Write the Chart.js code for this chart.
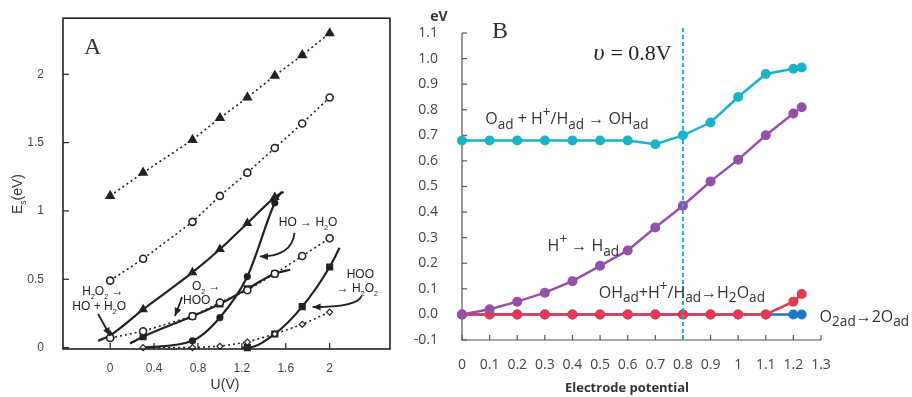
<!DOCTYPE html>
<html>
<head>
<meta charset="utf-8">
<script src="https://cdn.jsdelivr.net/npm/chart.js@4.4.0/dist/chart.umd.min.js"></script>
<style>
  body { margin: 0; background: #fff; width: 912px; height: 397px; overflow: hidden; position: relative; }
  #chartA { position: absolute; left: 0; top: 0; }
  #chartB { position: absolute; left: 400px; top: 0; }
</style>
</head>
<body>
<canvas id="chartA" width="420" height="397"></canvas>
<canvas id="chartB" width="512" height="397"></canvas>
<script>
// ---- painel A : barreiras E_s vs U ----
const uA = [0, 0.3, 0.75, 1.0, 1.25, 1.5, 1.75, 2.0];
const triDotted = [1.11, 1.28, 1.52, 1.68, 1.83, 1.99, 2.14, 2.30];
const circUpper = [0.49, 0.65, 0.92, 1.11, 1.28, 1.46, 1.64, 1.83];
const circLower = [0.07, 0.12, 0.23, 0.33, 0.42, 0.54, 0.67, 0.80];
const diaLower  = [null, 0, 0, 0.01, 0.04, 0.10, 0.17, 0.26];

const h2o2U = [-0.11, 0, 0.3, 0.75, 1.0, 1.25, 1.5, 1.58];
const h2o2E = [0.05, 0.09, 0.28, 0.55, 0.72, 0.91, 1.10, 1.14];
const o2U = [0.18, 0.3, 0.75, 1.0, 1.25, 1.5, 1.64];
const o2E = [0.03, 0.08, 0.23, 0.32, 0.43, 0.54, 0.57];
const hoU = [0.3, 0.75, 1.0, 1.25, 1.5, 1.56];
const hoE = [0, 0.05, 0.22, 0.52, 1.06, 1.14];
const hooU = [1.2, 1.25, 1.5, 1.75, 2.0, 2.09];
const hooE = [0, 0, 0.10, 0.30, 0.59, 0.73];

const ticksUA = [0, 0.4, 0.8, 1.2, 1.6, 2];
const ticksEA = [0, 0.5, 1, 1.5, 2];

// ---- painel B : energia vs potencial ----
const potential = [0, 0.1, 0.2, 0.3, 0.4, 0.5, 0.6, 0.7, 0.8, 0.9, 1.0, 1.1, 1.2, 1.23];
const ohFormation    = [0.68, 0.68, 0.68, 0.68, 0.68, 0.68, 0.68, 0.665, 0.70, 0.75, 0.85, 0.94, 0.96, 0.965];
const hAdsorption    = [0.0, 0.02, 0.05, 0.085, 0.13, 0.19, 0.25, 0.34, 0.425, 0.52, 0.605, 0.70, 0.785, 0.81];
const waterFormation = [0, 0, 0, 0, 0, 0, 0, 0, 0, 0, 0, 0, 0.05, 0.08];
const o2Dissociation = [0, 0, 0, 0, 0, 0, 0, 0, 0, 0, 0, 0, 0, 0];
const ticksB_x = [0, 0.1, 0.2, 0.3, 0.4, 0.5, 0.6, 0.7, 0.8, 0.9, 1, 1.1, 1.2, 1.3];
const markerV = 0.8;

function pts(xs, ys) {
  return xs.map((x, i) => ({ x: x, y: ys[i] })).filter(p => p.y !== null);
}
// raio zero nas pontas das linhas sólidas
function endsHidden(n, r) {
  return Array.from({ length: n }, (_, i) => (i === 0 || i === n - 1) ? 0 : r);
}

// texto com subscrito / sobrescrito
function richText(ctx, parts, x, y, size, family, color, subScale) {
  let cx = x;
  ctx.save();
  ctx.fillStyle = color;
  ctx.textAlign = 'left';
  ctx.textBaseline = 'alphabetic';
  for (const [txt, kind] of parts) {
    const s = kind === 'n' ? size : size * subScale;
    const dy = kind === 'sub' ? size * 0.3 : (kind === 'sup' ? -size * 0.42 : 0);
    ctx.font = s + 'px ' + family;
    ctx.fillText(txt, cx, y + dy);
    cx += ctx.measureText(txt).width;
  }
  ctx.restore();
}

function arrowHead(ctx, fx, fy, tx, ty) {
  const a = Math.atan2(ty - fy, tx - fx);
  const L = 8, W = 3.5;
  ctx.beginPath();
  ctx.moveTo(tx, ty);
  ctx.lineTo(tx - L * Math.cos(a) + W * Math.sin(a), ty - L * Math.sin(a) - W * Math.cos(a));
  ctx.lineTo(tx - L * Math.cos(a) - W * Math.sin(a), ty - L * Math.sin(a) + W * Math.cos(a));
  ctx.closePath();
  ctx.fill();
}

const ink = '#222';
const dottedStyle = { showLine: true, borderColor: ink, borderWidth: 1.6, borderDash: [2, 3], pointBorderColor: ink, clip: false };
const solidStyle = { showLine: true, borderColor: ink, borderWidth: 2.2, pointBorderColor: ink, pointBackgroundColor: ink, clip: false, cubicInterpolationMode: 'monotone' };

const notesA = [
  { parts: [['HO → H', 'n'], ['2', 'sub'], ['O', 'n']], u: 1.536, e: 0.89 },
  { parts: [['H', 'n'], ['2', 'sub'], ['O', 'n'], ['2', 'sub'], [' →', 'n']], u: -0.255, e: 0.384 },
  { parts: [['HO + H', 'n'], ['2', 'sub'], ['O', 'n']], u: -0.345, e: 0.275 },
  { parts: [['O', 'n'], ['2', 'sub'], [' →', 'n']], u: 0.745, e: 0.42 },
  { parts: [['HOO', 'n']], u: 0.664, e: 0.319 },
  { parts: [['HOO', 'n']], u: 2.155, e: 0.507 },
  { parts: [['→ H', 'n'], ['2', 'sub'], ['O', 'n'], ['2', 'sub']], u: 2.064, e: 0.406 }
];
// setas: início, controle, fim (em unidades dos eixos)
const arrowsA = [
  [[1.68, 0.84], [1.655, 0.667], [1.364, 0.667]],
  [[-0.11, 0.246], [-0.055, 0.166], [0.0, 0.087]],
  [[0.655, 0.37], [0.625, 0.3], [0.59, 0.232]],
  [[2.29, 0.377], [2.255, 0.297], [1.845, 0.297]]
];

const panelAPlugin = {
  id: 'panelA',
  afterDraw(chart) {
    const ctx = chart.ctx;
    const { left, right, top, bottom } = chart.chartArea;
    const xs = chart.scales.x, ys = chart.scales.y;
    ctx.save();
    ctx.strokeStyle = ink;
    ctx.lineWidth = 1.6;
    ctx.strokeRect(left, top, right - left, bottom - top);
    ctx.lineWidth = 1.2;
    ticksUA.forEach(v => {
      const px = xs.getPixelForValue(v);
      ctx.beginPath(); ctx.moveTo(px, bottom); ctx.lineTo(px, bottom - 6); ctx.stroke();
    });
    ticksEA.forEach(v => {
      const py = ys.getPixelForValue(v);
      ctx.beginPath(); ctx.moveTo(left, py); ctx.lineTo(left + 6, py); ctx.stroke();
    });
    // títulos dos eixos
    ctx.fillStyle = '#333';
    ctx.font = '14px "Liberation Sans"';
    ctx.textAlign = 'center';
    ctx.textBaseline = 'middle';
    ctx.fillText('U(V)', 225, 385);
    ctx.save();
    ctx.translate(22, 214);
    ctx.rotate(-Math.PI / 2);
    richText(ctx, [['E', 'n'], ['s', 'sub'], ['(eV)', 'n']], 0, 0, 14, '"Liberation Sans"', '#333', 0.6);
    ctx.restore();
    // letra do painel
    ctx.font = '24px "Liberation Serif"';
    ctx.textAlign = 'left';
    ctx.textBaseline = 'alphabetic';
    ctx.fillStyle = '#333';
    ctx.fillText('A', 84, 54);
    // anotações
    notesA.forEach(n => {
      richText(ctx, n.parts, xs.getPixelForValue(n.u), ys.getPixelForValue(n.e), 12, '"Liberation Sans"', ink, 0.6);
    });
    ctx.fillStyle = ink;
    ctx.lineWidth = 1.8;
    arrowsA.forEach(a => {
      const p = a.map(q => [xs.getPixelForValue(q[0]), ys.getPixelForValue(q[1])]);
      ctx.beginPath();
      ctx.moveTo(p[0][0], p[0][1]);
      ctx.quadraticCurveTo(p[1][0], p[1][1], p[2][0], p[2][1]);
      ctx.stroke();
      arrowHead(ctx, p[1][0], p[1][1], p[2][0], p[2][1]);
    });
    ctx.restore();
  }
};

new Chart(document.getElementById('chartA'), {
  type: 'scatter',
  data: {
    datasets: [
      Object.assign({ data: pts(uA, triDotted), pointStyle: 'triangle', pointRadius: 4.5, pointBackgroundColor: ink }, dottedStyle),
      Object.assign({ data: pts(uA, circUpper), pointStyle: 'circle', pointRadius: 3.5, pointBorderWidth: 1.6, pointBackgroundColor: '#fff' }, dottedStyle),
      Object.assign({ data: pts(uA, circLower), pointStyle: 'circle', pointRadius: 3.5, pointBorderWidth: 1.6, pointBackgroundColor: '#fff' }, dottedStyle),
      Object.assign({ data: pts(uA, diaLower), pointStyle: 'rectRot', pointRadius: 3, pointBorderWidth: 1.2, pointBackgroundColor: '#fff' }, dottedStyle),
      Object.assign({ data: pts(h2o2U, h2o2E), pointStyle: 'triangle', pointRadius: endsHidden(h2o2U.length, 3.5) }, solidStyle),
      Object.assign({ data: pts(o2U, o2E), pointStyle: 'rect', pointRadius: endsHidden(o2U.length, 3.5) }, solidStyle),
      Object.assign({ data: pts(hoU, hoE), pointStyle: 'circle', pointRadius: endsHidden(hoU.length, 2.5) }, solidStyle),
      Object.assign({ data: pts(hooU, hooE), pointStyle: 'rect', pointRadius: endsHidden(hooU.length, 3.5) }, solidStyle)
    ]
  },
  options: {
    responsive: false,
    animation: false,
    layout: { padding: { top: 15, right: 30, left: 0, bottom: 0 } },
    plugins: { legend: { display: false }, tooltip: { enabled: false } },
    scales: {
      x: {
        type: 'linear', min: -0.43, max: 2.55,
        afterBuildTicks: s => { s.ticks = ticksUA.map(v => ({ value: v })); },
        afterFit: s => { s.height = 48; },
        grid: { display: false }, border: { display: false },
        ticks: { color: '#444', padding: 4, font: { family: 'Liberation Sans', size: 12 }, maxRotation: 0, callback: v => String(v) }
      },
      y: {
        type: 'linear', min: -0.01, max: 2.41,
        afterBuildTicks: s => { s.ticks = ticksEA.map(v => ({ value: v })); },
        afterFit: s => { s.width = 63; },
        grid: { display: false }, border: { display: false },
        ticks: { color: '#444', padding: 11, font: { family: 'Liberation Sans', size: 12 }, callback: v => String(v) }
      }
    }
  },
  plugins: [panelAPlugin]
});

// ---- painel B ----
const labelFont = '"Open Sans"';
const notesB = [
  { parts: [['O', 'n'], ['ad', 'sub'], [' + H', 'n'], ['+', 'sup'], ['/H', 'n'], ['ad', 'sub'], [' → OH', 'n'], ['ad', 'sub']], v: 0.084, e: 0.745 },
  { parts: [['H', 'n'], ['+', 'sup'], [' → H', 'n'], ['ad', 'sub']], v: 0.31, e: 0.249 },
  { parts: [['OH', 'n'], ['ad', 'sub'], ['+H', 'n'], ['+', 'sup'], ['/H', 'n'], ['ad', 'sub'], ['→H', 'n'], ['2', 'sub'], ['O', 'n'], ['ad', 'sub']], v: 0.495, e: 0.066 },
  { parts: [['O', 'n'], ['2ad', 'sub'], ['→2O', 'n'], ['ad', 'sub']], v: 1.295, e: -0.028 }
];

const panelBPlugin = {
  id: 'panelB',
  beforeDatasetsDraw(chart) {
    const ctx = chart.ctx;
    const { left, right, top, bottom } = chart.chartArea;
    const xs = chart.scales.x, ys = chart.scales.y;
    ctx.save();
    ctx.strokeStyle = '#555';
    ctx.lineWidth = 1.2;
    ctx.beginPath();
    ctx.moveTo(left, top); ctx.lineTo(left, bottom); ctx.lineTo(right, bottom);
    ctx.stroke();
    ticksB_x.forEach(v => {
      const px = xs.getPixelForValue(v);
      ctx.beginPath(); ctx.moveTo(px, bottom); ctx.lineTo(px, bottom - 5); ctx.stroke();
    });
    ys.ticks.forEach(t => {
      const py = ys.getPixelForValue(t.value);
      ctx.beginPath(); ctx.moveTo(left, py); ctx.lineTo(left + 5, py); ctx.stroke();
    });
    ctx.restore();
  },
  afterDraw(chart) {
    const ctx = chart.ctx;
    const { bottom } = chart.chartArea;
    const xs = chart.scales.x, ys = chart.scales.y;
    ctx.save();
    // linha tracejada em 0.8 V
    const px = xs.getPixelForValue(markerV);
    ctx.strokeStyle = '#1ab3c6';
    ctx.lineWidth = 2;
    ctx.setLineDash([4, 3]);
    ctx.beginPath(); ctx.moveTo(px, bottom); ctx.lineTo(px, ys.getPixelForValue(1.12)); ctx.stroke();
    ctx.setLineDash([]);
    // rótulos
    notesB.forEach(n => {
      richText(ctx, n.parts, xs.getPixelForValue(n.v), ys.getPixelForValue(n.e), 16, labelFont, '#333', 0.85);
    });
    ctx.fillStyle = '#222';
    ctx.textAlign = 'left';
    ctx.textBaseline = 'alphabetic';
    ctx.font = 'italic 24px "Liberation Serif"';
    ctx.fillText('υ', xs.getPixelForValue(0.476), ys.getPixelForValue(0.995));
    ctx.font = '22px "Liberation Serif"';
    ctx.fillText('= 0.8V', xs.getPixelForValue(0.476) + 17, ys.getPixelForValue(0.995));
    ctx.font = '24px "Liberation Serif"';
    ctx.fillStyle = '#333';
    ctx.fillText('B', xs.getPixelForValue(0.109), ys.getPixelForValue(1.08));
    // títulos
    ctx.fillStyle = '#333';
    ctx.font = 'bold 14px "Open Sans"';
    ctx.textAlign = 'center';
    ctx.textBaseline = 'middle';
    ctx.fillText('eV', 39, 17);
    ctx.font = 'bold 13px "Open Sans"';
    ctx.fillText('Electrode potential', 227, 388);
    ctx.restore();
  }
};

function seriesB(values, color, order) {
  return {
    data: pts(potential, values),
    showLine: true,
    borderColor: color,
    backgroundColor: color,
    pointBackgroundColor: color,
    pointBorderColor: color,
    borderWidth: 2.5,
    pointRadius: 5,
    pointBorderWidth: 0,
    order: order,
    clip: false
  };
}

new Chart(document.getElementById('chartB'), {
  type: 'scatter',
  data: {
    datasets: [
      seriesB(ohFormation, '#1ab3c8', 1),
      seriesB(hAdsorption, '#9550a8', 2),
      seriesB(waterFormation, '#e8384f', 3),
      seriesB(o2Dissociation, '#1c78c2', 4)
    ]
  },
  options: {
    responsive: false,
    animation: false,
    layout: { padding: { top: 33, right: 91, left: 0, bottom: 0 } },
    plugins: { legend: { display: false }, tooltip: { enabled: false } },
    scales: {
      x: {
        type: 'linear', min: 0, max: 1.3,
        afterBuildTicks: s => { s.ticks = ticksB_x.map(v => ({ value: v })); },
        afterFit: s => { s.height = 57; },
        grid: { display: false }, border: { display: false },
        ticks: { color: '#444', padding: 9, font: { family: 'Open Sans', size: 14 }, maxRotation: 0, autoSkip: false, callback: v => String(v) }
      },
      y: {
        type: 'linear', min: -0.1, max: 1.1,
        ticks: { stepSize: 0.1, color: '#444', padding: 16, font: { family: 'Open Sans', size: 14 }, callback: v => v.toFixed(1) },
        afterFit: s => { s.width = 62; },
        grid: { display: false }, border: { display: false }
      }
    }
  },
  plugins: [panelBPlugin]
});
</script>
</body>
</html>
